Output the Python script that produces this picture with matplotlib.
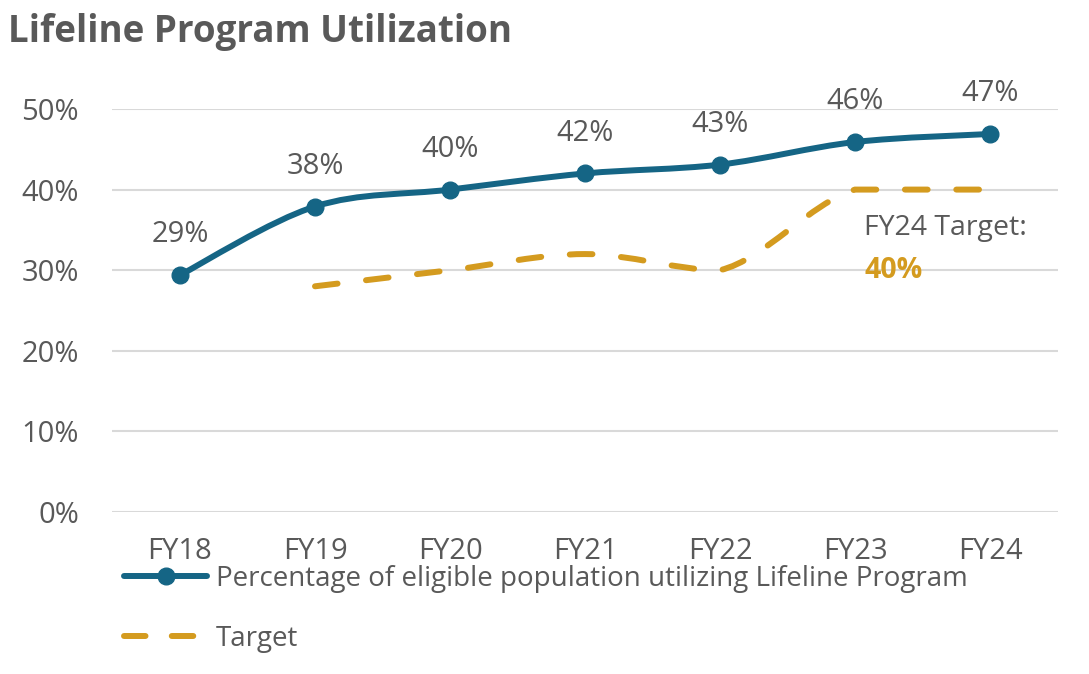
#!/usr/bin/env python3
"""Lifeline Program utilization vs target, FY18-FY24."""

import matplotlib
matplotlib.use("Agg")
import matplotlib.pyplot as plt
from matplotlib.path import Path
from matplotlib.patches import PathPatch
from matplotlib.lines import Line2D

YEARS = ["FY18", "FY19", "FY20", "FY21", "FY22", "FY23", "FY24"]
UTIL = [29.4, 37.9, 40.0, 42.0, 43.1, 45.9, 46.9]
UTIL_LABELS = ["29%", "38%", "40%", "42%", "43%", "46%", "47%"]
TARGET_YEARS = ["FY19", "FY20", "FY21", "FY22", "FY23", "FY24"]
TARGET = [28.0, 30.0, 32.0, 30.0, 40.0, 40.0]
Y_TICKS = [0, 10, 20, 30, 40, 50]

BLUE = "#156585"
GOLD = "#D49B1F"
GRAY = "#595959"
GRID = "#D9D9D9"
FONT = "Open Sans"
LW = 4.3
DASHES = (3.8, 4.8)


def smooth_path(xs, ys):
    # smoothed line: cubic Bezier segments through every point, control
    # points kept inside each segment's y range so it never overshoots
    pts = list(zip(xs, ys))
    verts = [pts[0]]
    codes = [Path.MOVETO]
    n = len(pts)
    for i in range(n - 1):
        p0 = pts[i - 1] if i > 0 else pts[i]
        p1 = pts[i]
        p2 = pts[i + 1]
        p3 = pts[i + 2] if i + 2 < n else pts[i + 1]
        lo, hi = min(p1[1], p2[1]), max(p1[1], p2[1])
        c1y = min(max(p1[1] + (p2[1] - p0[1]) / 6, lo), hi)
        c2y = min(max(p2[1] - (p3[1] - p1[1]) / 6, lo), hi)
        c1 = (p1[0] + (p2[0] - p0[0]) / 6, c1y)
        c2 = (p2[0] - (p3[0] - p1[0]) / 6, c2y)
        verts += [c1, c2, p2]
        codes += [Path.CURVE4] * 3
    return Path(verts, codes)


def main():
    plt.rcParams["font.family"] = [FONT, "DejaVu Sans"]
    fig = plt.figure(figsize=(10.89, 6.74), dpi=100)
    ax = fig.add_axes([0.1033, 0.2404, 0.8678, 0.5979])

    x_all = list(range(len(YEARS)))
    x_tgt = [YEARS.index(y) for y in TARGET_YEARS]

    ax.add_patch(PathPatch(smooth_path(x_tgt, TARGET), fill=False, edgecolor=GOLD,
                           linewidth=LW, linestyle=(0, DASHES), capstyle="round",
                           zorder=3))
    ax.add_patch(PathPatch(smooth_path(x_all, UTIL), fill=False, edgecolor=BLUE,
                           linewidth=LW, capstyle="round", zorder=4))
    ax.plot(x_all, UTIL, linestyle="none", marker="o", markersize=12,
            color=BLUE, zorder=5)

    for x, y, lab in zip(x_all, UTIL, UTIL_LABELS):
        ax.annotate(lab, (x, y), xytext=(0, 29), textcoords="offset points",
                    ha="center", va="center", fontsize=21, color=GRAY)

    ax.text(5.07, 35.2, "FY24 Target:", ha="left", va="center", fontsize=20.5,
            color=GRAY)
    ax.text(5.07, 30.0, "40%", ha="left", va="center", fontsize=20.5,
            color=GOLD, fontweight="bold")

    ax.set_xlim(-0.5, len(YEARS) - 0.5)
    ax.set_ylim(0, 50)
    ax.set_xticks(x_all)
    ax.set_xticklabels(YEARS)
    ax.set_yticks(Y_TICKS)
    ax.set_yticklabels([f"{t}%" for t in Y_TICKS])
    ax.tick_params(axis="both", length=0, labelsize=21, labelcolor=GRAY)
    ax.tick_params(axis="y", pad=24)
    ax.tick_params(axis="x", pad=18)
    for s in ax.spines.values():
        s.set_visible(False)
    ax.grid(axis="y", color=GRID, linewidth=1.5)
    ax.set_axisbelow(True)

    handles = [
        Line2D([], [], color=BLUE, linewidth=LW, marker="o", markersize=12,
               solid_capstyle="round"),
        Line2D([], [], color=GOLD, linewidth=LW, linestyle=(0, (3.6, 4.4)),
               dash_capstyle="round"),
    ]
    labels = ["Percentage of eligible population utilizing Lifeline Program",
              "Target"]
    leg = fig.legend(handles, labels, loc="upper left",
                     bbox_to_anchor=(0.114, 0.162), frameon=False, fontsize=20,
                     handlelength=3.0, handletextpad=0.3, labelspacing=1.15,
                     borderaxespad=0, borderpad=0)
    for t in leg.get_texts():
        t.set_color(GRAY)

    fig.text(0.007, 0.952, "Lifeline Program Utilization", ha="left", va="center",
             fontsize=26.5, fontweight="bold", color=GRAY)

    fig.savefig("out.png", dpi=100)
    plt.close(fig)


if __name__ == "__main__":
    main()
